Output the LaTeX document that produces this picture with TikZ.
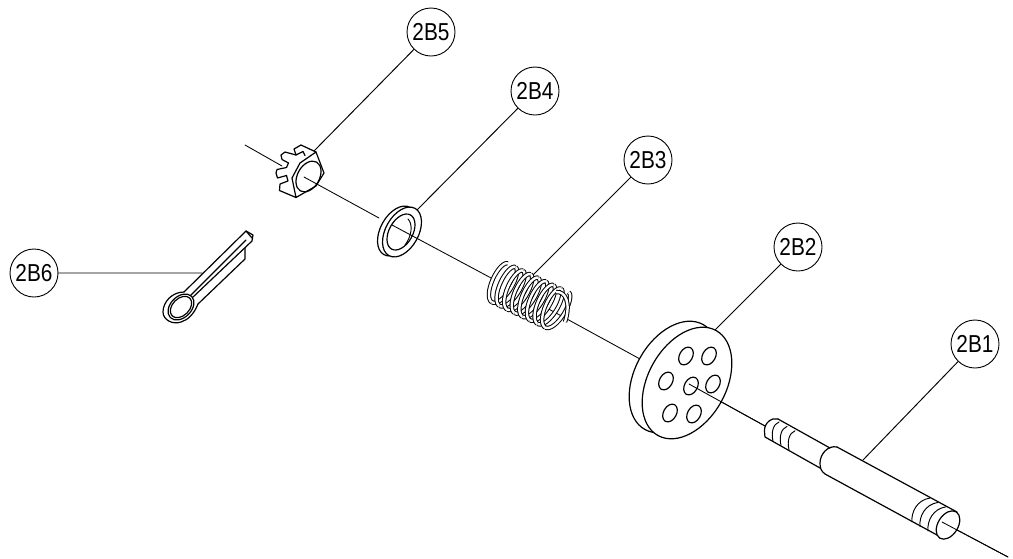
\documentclass[tikz,border=0pt]{standalone}
\usepackage{fontspec}
\newfontfamily\lab[FakeStretch=0.85]{Liberation Sans}
\begin{document}
\begin{tikzpicture}[x=1pt,y=-1pt,line join=round,line cap=round,
  callout/.style={draw,circle,minimum size=48pt,inner sep=0pt,line width=0.9pt,font=\lab\fontsize{24.5}{26}\selectfont},
  leader/.style={line width=0.95pt},
  axisline/.style={line width=0.85pt},
  part/.style={line width=1.2pt},
  thin part/.style={line width=0.95pt},
  coil/.style={line width=1pt,double=white,double distance=2.4pt,line cap=butt}]
\useasboundingbox (0,0) rectangle (1013,558);
% named ends
\coordinate (p5) at (314,151);
\coordinate (p4) at (417,210);
\coordinate (p3) at (533,275);
\coordinate (p2) at (715,330);
\coordinate (p1) at (863,460);
\coordinate (p6) at (202,273);
\coordinate (a0) at (245,145); \coordinate (a1) at (282,166);
\coordinate (a2) at (304,177); \coordinate (a3) at (379,218);
\coordinate (a4) at (392,225); \coordinate (a5) at (493,279);
\coordinate (a6) at (545,307); \coordinate (a7) at (640,359);
\coordinate (a8) at (689,384); \coordinate (a9) at (765,426);
\coordinate (a10) at (942,522); \coordinate (a11) at (1008,557);
% labels
\node[callout] (b5) at (431,32) {2B5};
\node[callout] (b4) at (535,91) {2B4};
\node[callout] (b3) at (648,160) {2B3};
\node[callout] (b2) at (798,247) {2B2};
\node[callout] (b1) at (975,344) {2B1};
\node[callout] (b6) at (34,273) {2B6};
\draw[leader] (b5)--(p5) (b4)--(p4) (b3)--(p3) (b2)--(p2) (b1)--(p1) (b6)--(p6);
% nut
\draw[part] (316,152) -- (301,145) -- (294,149) -- (296,155) -- (303,151.5) -- (305,155.5);
\draw[part] (296,155) -- (285,152) -- (281,155) -- (282,159.5) -- (288.5,163) -- (286.5,167.5) -- (277,169.5)
  -- (276,173) -- (277.5,178) -- (286.5,175.5) -- (288,181) -- (280,184) -- (279.5,190.5) -- (296,197.5);
\draw[part] (316,152) -- (324,173) -- (316,186) -- (296,197.5) -- (292,178) -- (300,163) -- cycle;
\draw[part] (308.5,176.5) ellipse [x radius=16.5pt,y radius=11pt,rotate=61];
% washer
\draw[part] (397,231) ellipse [x radius=27pt,y radius=16.5pt,rotate=61];
\draw[part,fill=white] (402,232) ellipse [x radius=27pt,y radius=16.5pt,rotate=61];
\draw[part] (401,232) ellipse [x radius=19.5pt,y radius=11.8pt,rotate=61];
\draw[thin part] (408,219) .. controls (413,224) and (412,236) .. (405,245);
% axis
\draw[axisline] (a0)--(a1) (a2)--(a3) (a4)--(a5) (a6)--(a7) (a8)--(a9) (a10)--(a11);
% spring
\foreach \n in {0,...,7}{
  \draw[coil]
    plot[smooth,domain=0:180,samples=17,variable=\t]
    ({498+7.6*(\n+\t/360)+21*cos(\t)*0.47+8*sin(\t)*(-0.87)},
     {282+3.6*(\n+\t/360)+21*cos(\t)*(-0.88)+8*sin(\t)*(-0.5)});
  \draw[coil]
    plot[smooth,domain=180:360,samples=17,variable=\t]
    ({498+7.6*(\n+\t/360)+21*cos(\t)*0.47+8*sin(\t)*(-0.87)},
     {282+3.6*(\n+\t/360)+21*cos(\t)*(-0.88)+8*sin(\t)*(-0.5)});
}
\draw[coil] (556,292) .. controls (566,291) and (571,304) .. (565,322);
% disc
\draw[part,fill=white] (674,377) ellipse [x radius=60pt,y radius=39pt,rotate=61];
\draw[part,fill=white] (687,383) ellipse [x radius=60pt,y radius=39pt,rotate=61];
\foreach \hx/\hy in {691/386,686/356,709/356,713/384,666/381,670/413,694/414}
  \draw[part] (\hx,\hy) ellipse [x radius=9.5pt,y radius=6.5pt,rotate=61];
\draw[axisline] (a8)--(a9);
% shaft
\draw[part] (778,419) -- (830,448);
\draw[part] (778,419) .. controls (772,417) and (764,423) .. (764.5,431) .. controls (764.5,434) and (765,436) .. (765,437) -- (820,468);
\foreach \s in {0,8,16}
  \draw[thin part] (779+\s,422+\s*0.55) .. controls (773+\s,424+\s*0.55) and (771+\s,433+\s*0.55) .. (773+\s,441+\s*0.55);
\draw[part] (837,447) -- (957,512);
\draw[part] (837,447) .. controls (828,445) and (820,454) .. (820,463) .. controls (820,468) and (821,471) .. (825,474) -- (937,535);
\foreach \s in {0,8,16}
  \draw[thin part] (930+\s,498+\s*0.55) .. controls (917+\s,500+\s*0.55) and (911+\s,512+\s*0.55) .. (912+\s,522+\s*0.55);
\draw[part,fill=white] (948,525) ellipse [x radius=15.5pt,y radius=10pt,rotate=58];
\draw[axisline] (a10)--(a11);
% cotter pin
\draw[part] (184,292) -- (246,231) -- (253,235) -- (252,241) -- (192,298);
\draw[part] (246,231) -- (252,238) (190,296) -- (246,240);
\draw[part] (198,304) -- (245,259) -- (245,248);
\draw[part] (184,292) .. controls (172,292) and (163,302) .. (163,312) .. controls (163,320) and (173,325) .. (181,322) .. controls (188,320) and (194,314) .. (198,304);
\draw[part,fill=white] (181,307) ellipse [x radius=15pt,y radius=10.5pt,rotate=45];
\draw[part] (181,307) ellipse [x radius=12.5pt,y radius=8.5pt,rotate=45];
\end{tikzpicture}
\end{document}
